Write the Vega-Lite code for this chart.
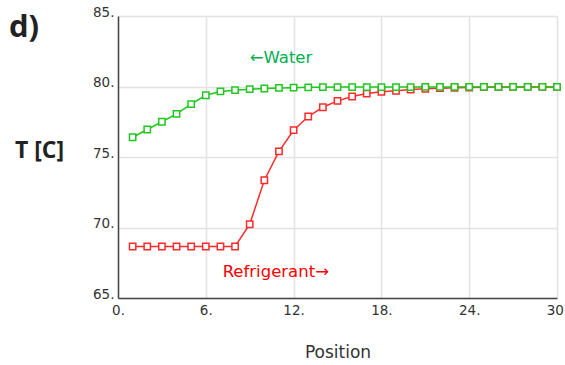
{
  "$schema": "https://vega.github.io/schema/vega-lite/v6.json",
  "width": 439,
  "height": 282,
  "autosize": "none",
  "padding": {"left": 118, "top": 16, "right": 8, "bottom": 67},
  "background": "white",
  "title": {
    "text": "d)",
    "anchor": "start",
    "frame": "group",
    "orient": "top",
    "fontSize": 31,
    "fontWeight": "bold",
    "font": "Open Sans",
    "color": "#222222",
    "offset": 0,
    "dx": -109,
    "dy": 39,
    "baseline": "top"
  },
  "config": {
    "view": {"stroke": null},
    "axis": {
      "labelFont": "DejaVu Sans",
      "labelFontSize": 13.5,
      "labelColor": "#333333",
      "labelFlush": false,
      "gridColor": "#e3e3e3",
      "gridWidth": 1.5,
      "domainColor": "#444444",
      "domainWidth": 1.5,
      "ticks": false
    }
  },
  "datasets": {
    "profiles": [
      {"position": 1, "series": "Refrigerant", "T": 68.65},
      {"position": 2, "series": "Refrigerant", "T": 68.65},
      {"position": 3, "series": "Refrigerant", "T": 68.65},
      {"position": 4, "series": "Refrigerant", "T": 68.65},
      {"position": 5, "series": "Refrigerant", "T": 68.65},
      {"position": 6, "series": "Refrigerant", "T": 68.65},
      {"position": 7, "series": "Refrigerant", "T": 68.65},
      {"position": 8, "series": "Refrigerant", "T": 68.65},
      {"position": 9, "series": "Refrigerant", "T": 70.23},
      {"position": 10, "series": "Refrigerant", "T": 73.35},
      {"position": 11, "series": "Refrigerant", "T": 75.4},
      {"position": 12, "series": "Refrigerant", "T": 76.9},
      {"position": 13, "series": "Refrigerant", "T": 77.87},
      {"position": 14, "series": "Refrigerant", "T": 78.53},
      {"position": 15, "series": "Refrigerant", "T": 78.98},
      {"position": 16, "series": "Refrigerant", "T": 79.29},
      {"position": 17, "series": "Refrigerant", "T": 79.5},
      {"position": 18, "series": "Refrigerant", "T": 79.62},
      {"position": 19, "series": "Refrigerant", "T": 79.7},
      {"position": 20, "series": "Refrigerant", "T": 79.78},
      {"position": 21, "series": "Refrigerant", "T": 79.84},
      {"position": 22, "series": "Refrigerant", "T": 79.88},
      {"position": 23, "series": "Refrigerant", "T": 79.91},
      {"position": 24, "series": "Refrigerant", "T": 79.93},
      {"position": 25, "series": "Refrigerant", "T": 79.95},
      {"position": 26, "series": "Refrigerant", "T": 79.96},
      {"position": 27, "series": "Refrigerant", "T": 79.97},
      {"position": 28, "series": "Refrigerant", "T": 79.97},
      {"position": 29, "series": "Refrigerant", "T": 79.97},
      {"position": 30, "series": "Refrigerant", "T": 79.97},
      {"position": 1, "series": "Water", "T": 76.4},
      {"position": 2, "series": "Water", "T": 76.95},
      {"position": 3, "series": "Water", "T": 77.5},
      {"position": 4, "series": "Water", "T": 78.06},
      {"position": 5, "series": "Water", "T": 78.75},
      {"position": 6, "series": "Water", "T": 79.38},
      {"position": 7, "series": "Water", "T": 79.65},
      {"position": 8, "series": "Water", "T": 79.74},
      {"position": 9, "series": "Water", "T": 79.81},
      {"position": 10, "series": "Water", "T": 79.86},
      {"position": 11, "series": "Water", "T": 79.9},
      {"position": 12, "series": "Water", "T": 79.92},
      {"position": 13, "series": "Water", "T": 79.94},
      {"position": 14, "series": "Water", "T": 79.95},
      {"position": 15, "series": "Water", "T": 79.96},
      {"position": 16, "series": "Water", "T": 79.96},
      {"position": 17, "series": "Water", "T": 79.96},
      {"position": 18, "series": "Water", "T": 79.96},
      {"position": 19, "series": "Water", "T": 79.96},
      {"position": 20, "series": "Water", "T": 79.96},
      {"position": 21, "series": "Water", "T": 79.97},
      {"position": 22, "series": "Water", "T": 79.97},
      {"position": 23, "series": "Water", "T": 79.97},
      {"position": 24, "series": "Water", "T": 79.97},
      {"position": 25, "series": "Water", "T": 79.97},
      {"position": 26, "series": "Water", "T": 79.97},
      {"position": 27, "series": "Water", "T": 79.97},
      {"position": 28, "series": "Water", "T": 79.97},
      {"position": 29, "series": "Water", "T": 79.97},
      {"position": 30, "series": "Water", "T": 79.97}
    ],
    "labels": [
      {"position": 9.0, "T": 82.05, "text": "←Water", "series": "Water"},
      {"position": 7.15, "T": 66.85, "text": "Refrigerant→", "series": "Refrigerant"}
    ]
  },
  "layer": [
    {
      "data": {"name": "profiles"},
      "mark": {"type": "line", "strokeWidth": 1.5},
      "encoding": {
        "x": {
          "field": "position",
          "type": "quantitative",
          "scale": {"domain": [0, 30], "nice": false},
          "axis": {
            "values": [0, 6, 12, 18, 24, 30],
            "labelExpr": "datum.label + '.'",
            "labelPadding": 5,
            "title": "Position",
            "titleFont": "DejaVu Sans",
            "titleFontSize": 17,
            "titleFontWeight": "normal",
            "titleColor": "#333333",
            "titlePadding": 28
          }
        },
        "y": {
          "field": "T",
          "type": "quantitative",
          "scale": {"domain": [65, 85], "nice": false, "zero": false},
          "axis": {
            "values": [65, 70, 75, 80, 85],
            "labelExpr": "datum.label + '.'",
            "labelPadding": 4,
            "labelBaseline": "middle",
            "labelOffset": -4,
            "title": "T [C]",
            "titleAngle": 0,
            "titleFont": "Open Sans",
            "titleFontSize": 23,
            "titleFontWeight": "bold",
            "titleColor": "#222222",
            "titleAlign": "center",
            "titleBaseline": "middle",
            "titleX": -79,
            "titleY": 134
          }
        },
        "color": {
          "field": "series",
          "type": "nominal",
          "sort": ["Refrigerant", "Water"],
          "scale": {"domain": ["Refrigerant", "Water"], "range": ["#ff2a2a", "#1fc71f"]},
          "legend": null
        },
        "order": {"field": "position", "type": "quantitative"}
      }
    },
    {
      "data": {"name": "profiles"},
      "mark": {"type": "point", "shape": "square", "size": 40, "filled": false, "fill": "white", "fillOpacity": 1, "strokeWidth": 1.5, "opacity": 1},
      "encoding": {
        "x": {"field": "position", "type": "quantitative"},
        "y": {"field": "T", "type": "quantitative"},
        "color": {"field": "series", "type": "nominal", "legend": null},
        "order": {"field": "series", "type": "nominal", "sort": "ascending"}
      }
    },
    {
      "data": {"name": "labels"},
      "transform": [{"filter": "datum.series === 'Water'"}],
      "mark": {"type": "text", "align": "left", "baseline": "middle", "font": "DejaVu Sans", "fontSize": 16.5, "color": "#00b050"},
      "encoding": {
        "x": {"field": "position", "type": "quantitative"},
        "y": {"field": "T", "type": "quantitative"},
        "text": {"field": "text"}
      }
    },
    {
      "data": {"name": "labels"},
      "transform": [{"filter": "datum.series === 'Refrigerant'"}],
      "mark": {"type": "text", "align": "left", "baseline": "middle", "font": "DejaVu Sans", "fontSize": 16.5, "color": "#ff0000"},
      "encoding": {
        "x": {"field": "position", "type": "quantitative"},
        "y": {"field": "T", "type": "quantitative"},
        "text": {"field": "text"}
      }
    }
  ]
}
